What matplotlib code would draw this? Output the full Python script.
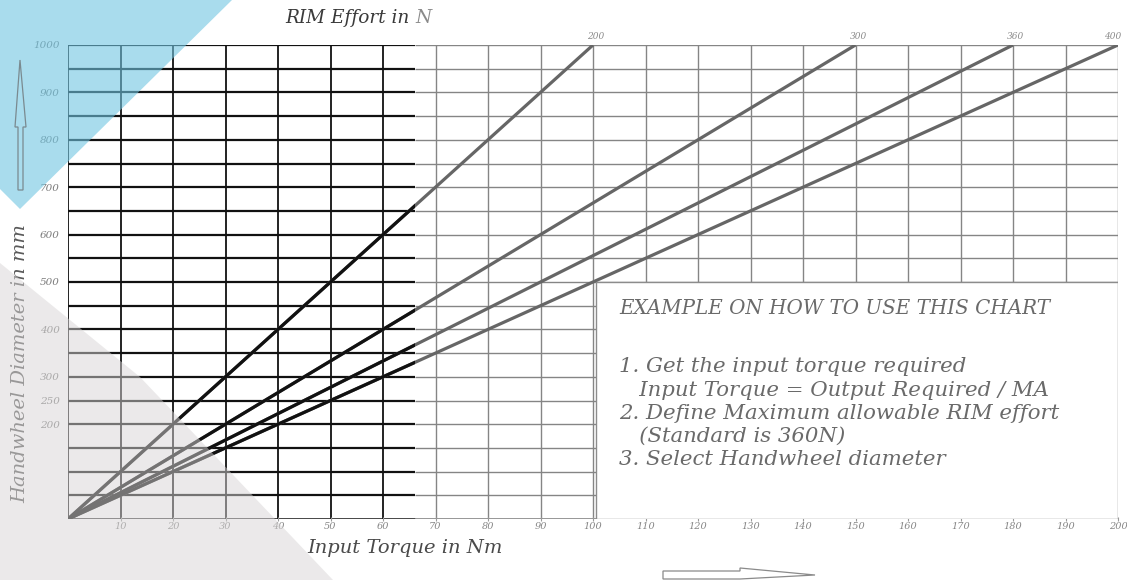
import matplotlib
matplotlib.use("Agg")
import matplotlib.pyplot as plt
from matplotlib.patches import Polygon, Rectangle

# RIM effort lines: effort (N) and torque (Nm) reached at 1000 mm diameter
efforts = [200, 300, 360, 400]
end_torque = [100, 150, 180, 200]
end_diameter = 1000

x_ticks = list(range(10, 201, 10))
y_ticks = [200, 250, 300, 400, 500, 600, 700, 800, 900, 1000]
grid_y = list(range(50, 1001, 50))
grid_x = list(range(10, 201, 10))
dark_limit = 66  # dark (printed) part of the chart ends here

notes = [
    "EXAMPLE ON HOW TO USE THIS CHART",
    "1. Get the input torque required",
    "   Input Torque = Output Required / MA",
    "2. Define Maximum allowable RIM effort",
    "   (Standard is 360N)",
    "3. Select Handwheel diameter",
]

W, H = 1127, 580
fig = plt.figure(figsize=(W / 100, H / 100), dpi=100)
fig.patch.set_facecolor("white")
ax = fig.add_axes([68 / W, 1 - 519 / H, (1118 - 68) / W, (519 - 45) / H])
ax.set_xlim(0, 200)
ax.set_ylim(0, 1000)
for s in ax.spines.values():
    s.set_visible(False)

serif = "DejaVu Serif"

# grid, dark on the left part, grey on the right
ax.hlines(grid_y, 0, dark_limit, color="#111111", lw=1.6, zorder=1)
ax.hlines(grid_y, dark_limit, 200, color="#858585", lw=1.0, zorder=1)
ax.hlines([0], 0, dark_limit, color="#111111", lw=1.8, zorder=1)
ax.hlines([0], dark_limit, 200, color="#858585", lw=1.2, zorder=1)
ax.vlines([0] + [v for v in grid_x if v < dark_limit], 0, 1000, color="#111111", lw=1.3, zorder=1)
ax.vlines([v for v in grid_x if v > dark_limit], 0, 1000, color="#858585", lw=1.0, zorder=1)

# effort lines
clip = Rectangle((0, 0), dark_limit, 1000, transform=ax.transData)
for f, t in zip(efforts, end_torque):
    ax.plot([0, t], [0, end_diameter], color="#666666", lw=2.3, solid_capstyle="butt", zorder=3)
    dark, = ax.plot([0, t], [0, end_diameter], color="#111111", lw=2.3, solid_capstyle="butt", zorder=4)
    dark.set_clip_path(clip)
    dx = 2 if t < 200 else -4
    ax.annotate(str(f), xy=(t, end_diameter), xytext=(dx, 3), textcoords="offset points",
                ha="center", va="bottom", fontsize=6.5, style="italic", family=serif,
                color="#8a8a8a", annotation_clip=False)

# instruction box
ax.add_patch(Rectangle((100.6, 0), 99.4, 500, facecolor="white", edgecolor="#8c8c8c", lw=1.0, zorder=5))
ax.text(0.525, 1 - (309 - 45) / 474, notes[0], transform=ax.transAxes,
        ha="left", va="center", fontsize=14.3, style="italic", family=serif, color="#6a6a6a", zorder=6)
for i, line in enumerate(notes[1:]):
    ypix = 367 + i * 23.2
    ax.text(0.525, 1 - (ypix - 45) / 474, line, transform=ax.transAxes,
            ha="left", va="center", fontsize=15.3, style="italic", family=serif, color="#6a6a6a", zorder=6)

# ticks
ax.set_xticks(x_ticks)
ax.set_xticklabels([str(v) for v in x_ticks])
ax.set_yticks(y_ticks)
ax.set_yticklabels([str(v) for v in y_ticks])
ax.tick_params(axis="x", length=3, direction="inout", color="#999999", pad=1, labelsize=7, labelcolor="#858585")
ax.tick_params(axis="y", length=0, pad=6, labelsize=7.5, labelcolor="#7a7a7a")
for lab in ax.get_xticklabels() + ax.get_yticklabels():
    lab.set_style("italic")
    lab.set_family(serif)

# axis titles
t1 = fig.text(285 / W, 1 - 18 / H, "RIM Effort in ", ha="left", va="center", fontsize=13.3,
              style="italic", family=serif, color="#3a3a3a")
ax.annotate("N", xy=(1, 0), xycoords=t1, ha="left", va="bottom", fontsize=13.3,
            style="italic", family=serif, color="#8a8a8a", annotation_clip=False)
fig.text(405 / W, 1 - 548 / H, "Input Torque in Nm", ha="center", va="center", fontsize=14,
         style="italic", family=serif, color="#4a4a4a")
fig.text(20 / W, 1 - 364 / H, "Handwheel Diameter in mm", ha="center", va="center", fontsize=14,
         rotation=90, style="italic", family=serif, color="#5a5a5a")


def px(points):
    return [(x / W, 1 - y / H) for x, y in points]


# background decorations (overlaid, semi transparent)
fig.add_artist(Polygon(px([(0, 0), (232, 0), (20, 209), (0, 189)]), closed=True,
                        transform=fig.transFigure, facecolor="#70c5e1", alpha=0.6, lw=0, zorder=10))
fig.add_artist(Polygon(px([(0, 263), (140, 377), (333, 580), (0, 580)]), closed=True,
                        transform=fig.transFigure, facecolor="#d8d5d6", alpha=0.5, lw=0, zorder=10))

# arrows
fig.add_artist(Polygon(px([(18, 190), (23, 190), (23, 127), (26, 127), (20, 60), (15, 127), (18, 127)]),
                        closed=True, transform=fig.transFigure, facecolor="none", edgecolor="#7a8a90",
                        lw=0.9, zorder=11))
fig.add_artist(Polygon(px([(663, 571), (740, 571), (740, 568), (815, 575), (740, 579), (663, 579)]),
                        closed=True, transform=fig.transFigure, facecolor="white", edgecolor="#8a8a8a",
                        lw=0.9, zorder=11))

fig.savefig("out.png", dpi=100)
